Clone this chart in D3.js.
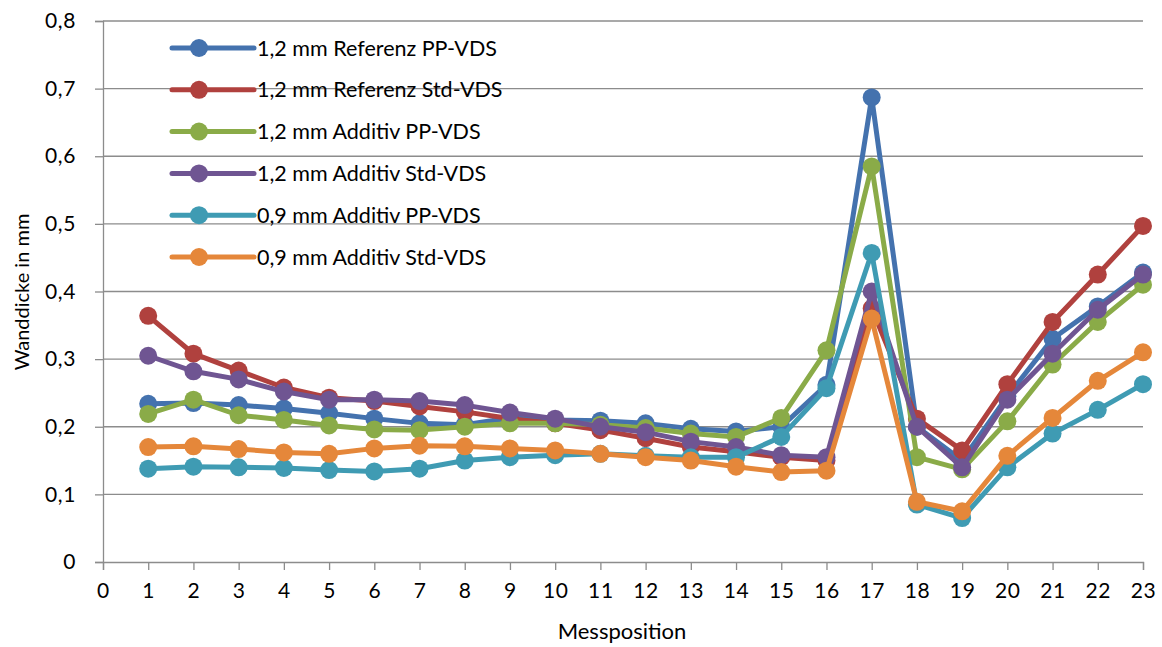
<!DOCTYPE html>
<html><head><meta charset="utf-8">
<script src="https://cdn.jsdelivr.net/npm/d3@7/dist/d3.min.js"></script>
<style>body{margin:0;background:#fff;} text{font-family:Lato,"Open Sans",sans-serif;fill:#000;}</style>
</head><body><svg id="c" width="1162" height="647"></svg>
<script>
const positions = d3.range(1, 24);
const seriesNames = ["1,2 mm Referenz PP-VDS","1,2 mm Referenz Std-VDS","1,2 mm Additiv PP-VDS","1,2 mm Additiv Std-VDS","0,9 mm Additiv PP-VDS","0,9 mm Additiv Std-VDS"];
const refPP   = [0.234,0.235,0.232,0.227,0.220,0.212,0.205,0.203,0.213,0.210,0.209,0.205,0.197,0.193,0.200,0.262,0.687,0.200,0.150,0.245,0.330,0.378,0.428];
const refStd  = [0.364,0.308,0.283,0.258,0.243,0.238,0.230,0.222,0.212,0.205,0.195,0.183,0.170,0.163,0.155,0.150,0.375,0.212,0.165,0.263,0.355,0.425,0.497];
const addPP12 = [0.219,0.240,0.217,0.210,0.202,0.196,0.195,0.200,0.205,0.205,0.203,0.198,0.190,0.185,0.213,0.313,0.585,0.155,0.137,0.208,0.292,0.355,0.410];
const addStd12= [0.305,0.282,0.270,0.252,0.240,0.240,0.238,0.232,0.221,0.212,0.200,0.192,0.178,0.170,0.158,0.155,0.400,0.200,0.140,0.240,0.308,0.373,0.425];
const addPP09 = [0.138,0.141,0.140,0.139,0.136,0.134,0.138,0.150,0.155,0.158,0.160,0.157,0.155,0.155,0.185,0.257,0.457,0.085,0.065,0.140,0.190,0.225,0.263];
const addStd09= [0.170,0.171,0.167,0.162,0.160,0.168,0.172,0.171,0.168,0.165,0.160,0.155,0.150,0.141,0.133,0.135,0.360,0.089,0.075,0.157,0.213,0.268,0.310];
const seriesValues = [refPP, refStd, addPP12, addStd12, addPP09, addStd09];
const colors = ["#4472AE","#B0413E","#8AAB48","#6F5592","#3F9BB3","#E5873A"];
const xTicks = d3.range(0, 24);
const yTicks = [0,0.1,0.2,0.3,0.4,0.5,0.6,0.7,0.8];

const svg = d3.select("#c");
const x = d3.scaleLinear().domain([0,23]).range([103,1143]);
const y = d3.scaleLinear().domain([0,0.8]).range([562,21]);
const fmt = d => String(d).replace(".", ",");

// gridlines
svg.append("g").selectAll("line").data(yTicks.slice(1)).join("line")
  .attr("x1", x(0)).attr("x2", x(23)).attr("y1", d=>y(d)).attr("y2", d=>y(d))
  .attr("stroke", "#8c8c8c").attr("stroke-width", 1.3);

// axes
const yAxis = svg.append("g").attr("transform", `translate(${x(0)},0)`)
  .call(d3.axisLeft(y).tickValues(yTicks).tickFormat(fmt).tickSize(8).tickPadding(19));
const xAxis = svg.append("g").attr("transform", `translate(0,${y(0)})`)
  .call(d3.axisBottom(x).tickValues(xTicks).tickFormat(d=>d).tickSize(8).tickPadding(13));
[yAxis, xAxis].forEach(a => {
  a.select(".domain").attr("stroke", "#8c8c8c").attr("stroke-width", 1.3);
  a.selectAll(".tick line").attr("stroke", "#8c8c8c").attr("stroke-width", 1.3);
  a.selectAll("text").style("font-size", "21px").style("letter-spacing", "0.6px").attr("fill", "#000");
});

// series
const line = d3.line().x((d,i)=>x(positions[i])).y(d=>y(d));
seriesValues.forEach((vals, si) => {
  const g = svg.append("g");
  g.append("path").attr("d", line(vals)).attr("fill","none")
    .attr("stroke", colors[si]).attr("stroke-width", 5).attr("stroke-linejoin","round");
  g.selectAll("circle").data(vals).join("circle")
    .attr("cx", (d,i)=>x(positions[i])).attr("cy", d=>y(d)).attr("r", 9)
    .attr("fill", colors[si]);
});

// legend
const leg = svg.append("g");
seriesNames.forEach((n, i) => {
  const yy = 48 + i*41.8;
  leg.append("line").attr("x1",172).attr("x2",254).attr("y1",yy).attr("y2",yy)
    .attr("stroke", colors[i]).attr("stroke-width",5).attr("stroke-linecap","round");
  leg.append("circle").attr("cx",199).attr("cy",yy).attr("r",9).attr("fill",colors[i]);
  leg.append("text").attr("x",257).attr("y",yy+7.5).style("font-size","21.5px").text(n);
});

// axis titles
svg.append("text").attr("transform","translate(29,292) rotate(-90)").attr("text-anchor","middle")
  .style("font-size","20px").text("Wanddicke in mm");
svg.append("text").attr("x",622).attr("y",639).attr("text-anchor","middle")
  .style("font-size","22px").text("Messposition");
</script></body></html>
